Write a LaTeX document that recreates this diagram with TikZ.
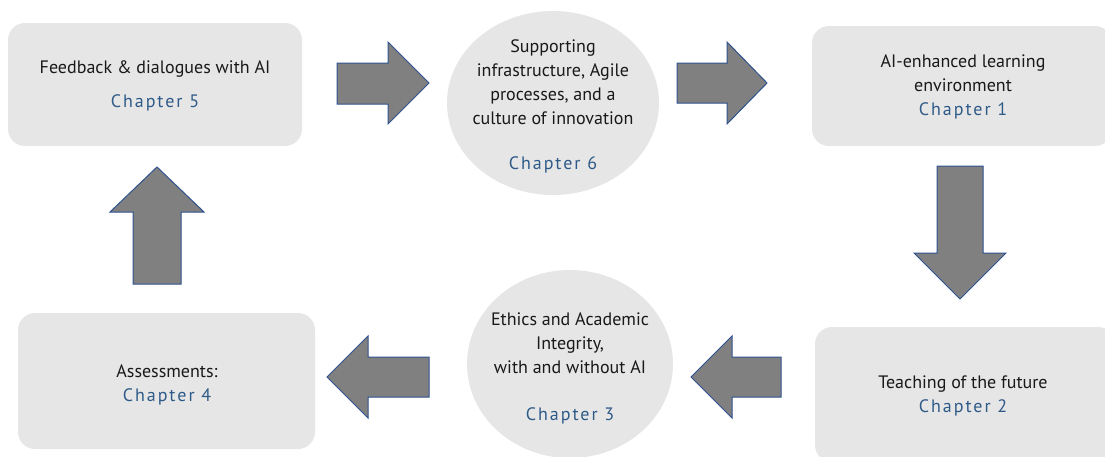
\documentclass[tikz,border=0pt]{standalone}
\usepackage{fontspec}
\setmainfont{PT Sans}
\newfontfamily\chapfont[LetterSpace=11]{PT Sans}
\usetikzlibrary{shapes.geometric}
\definecolor{boxgray}{HTML}{E6E6E6}
\definecolor{arrowgray}{HTML}{808080}
\definecolor{arrowedge}{HTML}{2F528F}
\definecolor{chapblue}{HTML}{2E5A88}
\newcommand{\chap}[1]{{\chapfont\color{chapblue}#1}}
\tikzset{
  card/.style={fill=boxgray, draw=none, rounded corners=17pt, inner sep=0pt},
  bubble/.style={ellipse, fill=boxgray, draw=none, inner sep=0pt},
  label/.style={align=center, text=black!90, font=\fontsize{18}{24}\selectfont, inner sep=0pt},
  blockarrow/.style={fill=arrowgray, draw=arrowedge, line width=1pt, line join=miter}
}
\begin{document}
\begin{tikzpicture}[x=1pt,y=-1pt]
\useasboundingbox (0,0) rectangle (1105,456);
% boxes
\node[card, minimum width=294pt, minimum height=123pt] (b5) at (155,84.5) {};
\node[card, minimum width=300pt, minimum height=120pt] (b1) at (962,86) {};
\node[card, minimum width=300pt, minimum height=135pt] (b2) at (965,394.5) {};
\node[card, minimum width=297pt, minimum height=136pt] (b4) at (166.5,381) {};
\node[bubble, minimum width=212pt, minimum height=184pt] (c6) at (553,103) {};
\node[bubble, minimum width=206pt, minimum height=188pt] (c3) at (570,364) {};
% texts
\node[label] (t5) at (155,86) {Feedback \& dialogues with AI\\[10pt]\chap{Chapter 5}};
\node[label] (t1) at (963,87) {AI-enhanced learning\\environment\\\chap{Chapter 1}};
\node[label] (t2) at (963,395.5) {Teaching of the future\\\chap{Chapter 2}};
\node[label] (t4) at (167,384.5) {Assessments:\\\chap{Chapter 4}};
\node[label] (t6) at (553,106.5) {Supporting\\infrastructure, Agile\\processes, and a\\culture of innovation\\[21pt]\chap{Chapter 6}};
\node[label] (t3) at (570,368.5) {Ethics and Academic\\Integrity,\\with and without AI\\[23pt]\chap{Chapter 3}};
% block arrows
\draw[blockarrow] (337,63) -- (388,63) -- (388,42) -- (429,83) -- (388,124) -- (388,104) -- (337,104) -- cycle;
\draw[blockarrow] (677,63) -- (727,63) -- (727,42) -- (767,83) -- (727,124) -- (727,103) -- (677,103) -- cycle;
\draw[blockarrow] (937,166) -- (983,166) -- (983,253) -- (1006,253) -- (960,299) -- (914,253) -- (937,253) -- cycle;
\draw[blockarrow] (781,357) -- (732,357) -- (732,336) -- (691,377) -- (732,418) -- (732,397) -- (781,397) -- cycle;
\draw[blockarrow] (429,357) -- (368,357) -- (368,336) -- (327,377) -- (368,418) -- (368,397) -- (429,397) -- cycle;
\draw[blockarrow] (133,284) -- (133,212) -- (110,212) -- (157,167) -- (204,212) -- (181,212) -- (181,284) -- cycle;
\end{tikzpicture}
\end{document}
